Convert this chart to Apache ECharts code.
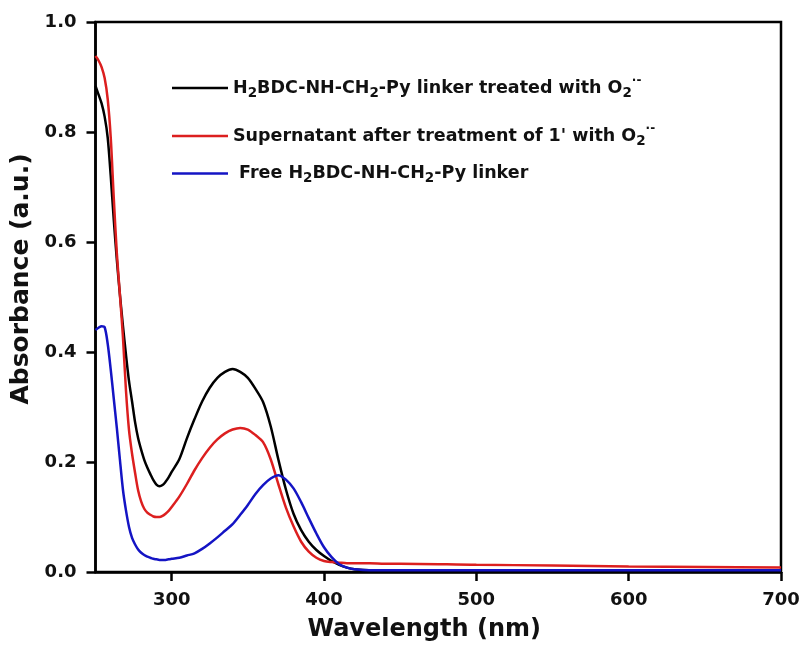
<!DOCTYPE html>
<html>
<head>
<meta charset="utf-8">
<script src="https://cdn.jsdelivr.net/npm/echarts@6/dist/echarts.min.js"></script>
<style>html,body{margin:0;padding:0;background:#fff;}#c{width:799px;height:649px;}</style>
</head>
<body>
<div id="c"></div>
<script>
// Wavelength (nm) sample positions
var wavelength = [250,252,254,256,258,260,262,264,266,268,270,272,274,276,278,280,282,284,286,288,290,292,294,296,298,300,305,310,315,320,325,330,335,340,345,350,355,360,365,370,375,380,385,390,395,400,405,410,415,420,430,440,450,500,550,600,650,700];
// H2BDC-NH-CH2-Py linker treated with O2·-
var treatedLinker = [0.884,0.868,0.852,0.828,0.790,0.720,0.640,0.568,0.505,0.448,0.395,0.347,0.310,0.272,0.243,0.222,0.204,0.190,0.178,0.167,0.159,0.156,0.158,0.164,0.172,0.182,0.205,0.243,0.278,0.310,0.335,0.353,0.364,0.369,0.364,0.353,0.333,0.309,0.265,0.205,0.150,0.106,0.076,0.055,0.040,0.029,0.020,0.013,0.008,0.005,0.003,0.002,0.002,0.002,0.002,0.001,0.001,0.001];
// Supernatant after treatment of 1' with O2·-
var supernatant = [0.938,0.930,0.918,0.898,0.860,0.790,0.680,0.580,0.505,0.428,0.330,0.258,0.215,0.180,0.148,0.128,0.115,0.108,0.104,0.101,0.100,0.100,0.102,0.106,0.111,0.118,0.137,0.160,0.185,0.207,0.226,0.241,0.252,0.259,0.262,0.259,0.249,0.236,0.205,0.160,0.117,0.083,0.055,0.037,0.026,0.020,0.018,0.017,0.016,0.016,0.016,0.015,0.015,0.013,0.012,0.010,0.009,0.008];
// Free H2BDC-NH-CH2-Py linker
var freeLinker = [0.440,0.444,0.447,0.445,0.415,0.368,0.315,0.262,0.205,0.150,0.112,0.082,0.062,0.050,0.041,0.035,0.031,0.028,0.026,0.024,0.023,0.022,0.022,0.022,0.023,0.024,0.026,0.030,0.034,0.042,0.052,0.063,0.075,0.087,0.104,0.122,0.142,0.158,0.170,0.176,0.168,0.152,0.127,0.098,0.070,0.045,0.027,0.014,0.008,0.005,0.003,0.003,0.003,0.003,0.003,0.003,0.003,0.003];

var xTicks = [300,400,500,600,700];
var yTicks = [0.0,0.2,0.4,0.6,0.8,1.0];

var seriesNames = [
  'H2BDC-NH-CH2-Py linker treated with O2·-',
  "Supernatant after treatment of 1' with O2·-",
  'Free H2BDC-NH-CH2-Py linker'
];
var legendRich = [
  'H{sub|2}BDC-NH-CH{sub|2}-Py linker treated with O{sub|2}{sup|·-}',
  "Supernatant after treatment of 1' with O{sub|2}{sup|·-}",
  ' Free H{sub|2}BDC-NH-CH{sub|2}-Py linker'
];
var colors = ['#000000', '#dc1f1f', '#1414c4'];
var values = [treatedLinker, supernatant, freeLinker];

var FONT = 'DejaVu Sans';

function pairs(ys) {
  return wavelength.map(function (x, i) { return [x, ys[i]]; });
}

var legendTops = [75, 123, 164.5];
var legends = seriesNames.map(function (n, i) {
  return {
    data: [n],
    left: 172,
    top: legendTops[i],
    padding: 0,
    icon: 'rect',
    itemWidth: 56,
    itemHeight: 2.5,
    orient: 'vertical',
    selectedMode: false,
    formatter: function () { return legendRich[i]; },
    textStyle: {
      fontFamily: FONT, fontWeight: 'bold', fontSize: 17.5, color: '#111',
      rich: {
        sub: { fontFamily: FONT, fontWeight: 'bold', fontSize: 13.5, color: '#111', padding: [10, 0, 0, 0] },
        sup: { fontFamily: FONT, fontWeight: 'bold', fontSize: 12, color: '#111', padding: [0, 0, 14, 0] }
      }
    }
  };
});

var chart = echarts.init(document.getElementById('c'), null, { renderer: 'canvas' });
chart.setOption({
  animation: false,
  backgroundColor: '#fff',
  legend: legends,
  grid: {
    left: 95.5, right: 18, top: 22, bottom: 77,
    show: true, borderColor: '#000', borderWidth: 2.5,
    outerBoundsMode: 'none', containLabel: false
  },
  xAxis: {
    type: 'value', min: 250, max: 700,
    name: 'Wavelength (nm)', nameLocation: 'middle', nameGap: 46,
    nameTextStyle: { fontFamily: FONT, fontWeight: 'bold', fontSize: 24, color: '#111', padding: [0, 28, 0, 0] },
    axisLine: { show: true, lineStyle: { color: '#000', width: 2.5 } },
    axisTick: { show: true, length: 9, lineStyle: { color: '#000', width: 2.5 }, customValues: xTicks },
    axisLabel: { fontFamily: FONT, fontWeight: 'bold', fontSize: 18, color: '#111', margin: 19, customValues: xTicks },
    splitLine: { show: false }
  },
  yAxis: {
    type: 'value', min: 0, max: 1, interval: 0.2,
    name: 'Absorbance (a.u.)', nameLocation: 'middle', nameGap: 55,
    nameTextStyle: { fontFamily: FONT, fontWeight: 'bold', fontSize: 25, color: '#111', padding: [0, 0, 0, 36] },
    axisLine: { show: true, lineStyle: { color: '#000', width: 2.5 } },
    axisTick: { show: true, length: 9, lineStyle: { color: '#000', width: 2.5 } },
    axisLabel: { fontFamily: FONT, fontWeight: 'bold', fontSize: 18, color: '#111', margin: 19,
      formatter: function (v) { return v.toFixed(1); } },
    splitLine: { show: false }
  },
  series: seriesNames.map(function (n, i) {
    return {
      name: n, type: 'line', data: pairs(values[i]),
      symbol: 'none', smooth: 0.3,
      lineStyle: { color: colors[i], width: 2.5 },
      itemStyle: { color: colors[i] },
      z: 2 + i
    };
  })
});
</script>
</body>
</html>
